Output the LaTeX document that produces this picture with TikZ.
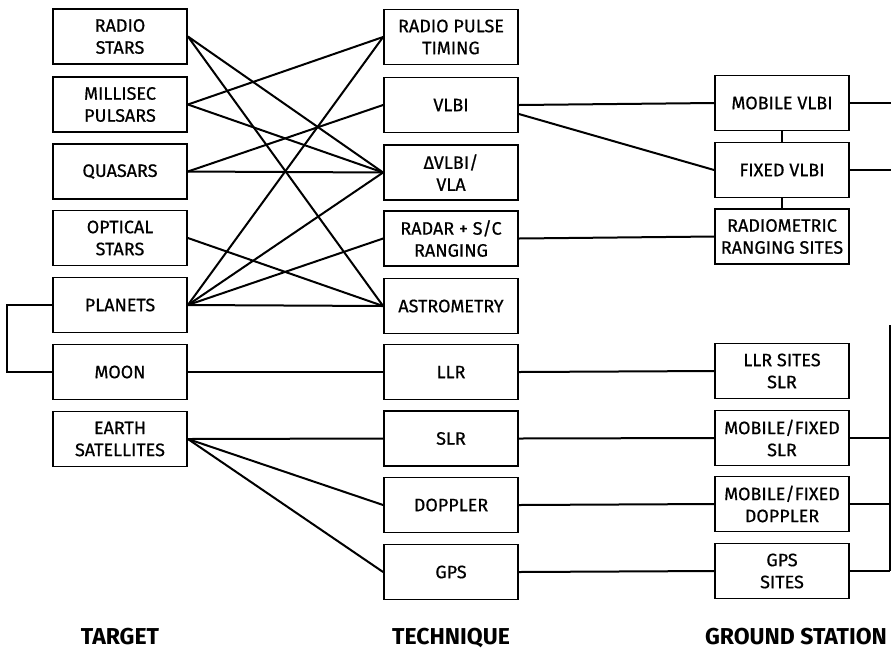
\documentclass[tikz,border=0pt]{standalone}
\usepackage{fontspec}
\setmainfont{Fira Sans}
\newfontfamily\boxfont{Fira Sans}[FakeBold=0.6]
\begin{document}
\begin{tikzpicture}[x=1pt,y=-1pt,
  box/.style={draw, line width=1.8pt, minimum width=134pt, minimum height=55pt,
    inner sep=1pt, align=center, font=\boxfont\fontsize{18}{22}\selectfont},
  conn/.style={line width=2pt},
  ttl/.style={inner sep=0pt, anchor=base, font=\fontsize{23}{27}\selectfont\bfseries}]
\useasboundingbox (0,0) rectangle (891,649);
% target column
\node[box] (rs) at (120,36.5) {RADIO\\STARS};
\node[box] (mp) at (120,104.5) {MILLISEC\\PULSARS};
\node[box] (qu) at (120,171.5) {QUASARS};
\node[box] (os) at (120,238) {OPTICAL\\STARS};
\node[box] (pl) at (120,305) {PLANETS};
\node[box] (mo) at (120,372) {MOON};
\node[box] (es) at (120,439) {EARTH\\SATELLITES};
% technique column
\node[box] (rpt) at (451,37) {RADIO PULSE\\TIMING};
\node[box] (vlbi) at (451,105) {VLBI};
\node[box] (dv) at (451,172.5) {ΔVLBI/\\VLA};
\node[box] (rad) at (451,238.5) {RADAR + S/C\\RANGING};
\node[box] (ast) at (451,306) {ASTROMETRY};
\node[box] (llr) at (451,372) {LLR};
\node[box] (slr) at (451,438.5) {SLR};
\node[box] (dop) at (451,505) {DOPPLER};
\node[box] (gps) at (451,572) {GPS};
% ground station column
\node[box] (mv) at (782,103) {MOBILE VLBI};
\node[box] (fv) at (782,170) {FIXED VLBI};
\node[box] (rm) at (782,236.5) {RADIOMETRIC\\RANGING SITES};
\node[box] (ls) at (782,371) {LLR SITES\\SLR};
\node[box] (mfs) at (782,438) {MOBILE/FIXED\\SLR};
\node[box] (mfd) at (782,504) {MOBILE/FIXED\\DOPPLER};
\node[box] (gs) at (782,571) {GPS\\SITES};
% titles
\node[ttl] (t1) at (120,644) {TARGET};
\node[ttl] (t2) at (451,644) {TECHNIQUE};
\node[ttl] (t3) at (796,644) {GROUND STATION};
% right edge coordinates
\coordinate (e1) at (891,103);
\coordinate (e2) at (891,170);
\coordinate (etop) at (889.5,325);
\coordinate (ebot) at (889.5,571);
% target -> technique
\draw[conn] (rs.east) -- (dv.west);
\draw[conn] (rs.east) -- (ast.west);
\draw[conn] (mp.east) -- (rpt.west);
\draw[conn] (mp.east) -- (dv.west);
\draw[conn] (qu.east) -- (vlbi.west);
\draw[conn] (qu.east) -- (dv.west);
\draw[conn] (os.east) -- (ast.west);
\draw[conn] (pl.east) -- (rpt.west);
\draw[conn] (pl.east) -- (dv.west);
\draw[conn] (pl.east) -- (rad.west);
\draw[conn] (pl.east) -- (ast.west);
\draw[conn] (pl.west) -- ++(-45,0) |- (mo.west);
\draw[conn] (mo.east) -- (llr.west);
\draw[conn] (es.east) -- (slr.west);
\draw[conn] (es.east) -- (dop.west);
\draw[conn] (es.east) -- (gps.west);
% technique -> ground station
\draw[conn] (vlbi.east) -- (mv.west);
\draw[conn] ([yshift=-9pt]vlbi.east) -- (fv.west);
\draw[conn] (mv.south) -- (fv.north);
\draw[conn] (fv.south) -- (rm.north);
\draw[conn] (rad.east) -- (rm.west);
\draw[conn] (llr.east) -- (ls.west);
\draw[conn] (slr.east) -- (mfs.west);
\draw[conn] (dop.east) -- (mfd.west);
\draw[conn] (gps.east) -- (gs.west);
% right edge
\draw[conn] (mv.east) -- (e1);
\draw[conn] (fv.east) -- (e2);
\draw[conn] (etop) -- (ebot);
\draw[conn] (mfs.east) -- (mfs.east -| etop);
\draw[conn] (mfd.east) -- (mfd.east -| etop);
\draw[conn] (gs.east) -- (gs.east -| etop);
\end{tikzpicture}
\end{document}
